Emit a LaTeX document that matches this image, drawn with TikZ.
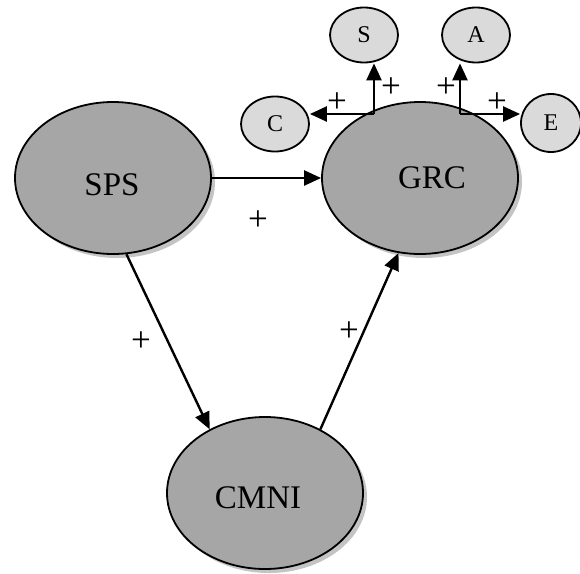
\documentclass[tikz,border=0pt]{standalone}
\usepackage{fontspec}
\setmainfont{Liberation Serif}
\usetikzlibrary{shapes.geometric,arrows.meta,shadows}
\definecolor{bigfill}{HTML}{A6A6A6}
\definecolor{smallfill}{HTML}{DADADA}
\definecolor{shadowgray}{HTML}{C4C4C4}
\begin{document}
\begin{tikzpicture}[x=1pt,y=-1pt,
  big/.style={ellipse, draw, line width=1.8pt, fill=bigfill,
    minimum width=196pt, minimum height=152pt, inner sep=0pt,
    drop shadow={shadow xshift=4pt, shadow yshift=-4pt, fill=shadowgray, opacity=1}},
  small/.style={ellipse, draw, line width=1.8pt, fill=smallfill,
    minimum width=68pt, minimum height=55pt, inner sep=0pt,
    font=\fontsize{24}{26}\selectfont},
  bigtext/.style={font=\fontsize{33}{36}\selectfont, inner sep=0pt},
  plus/.style={font=\fontsize{35}{38}\selectfont, inner sep=0pt},
  link/.style={line width=2.4pt, -{Triangle[length=17pt,width=15pt]}}]
\useasboundingbox (0,0) rectangle (580,573);

% main constructs
\node[big] (SPS)  at (113,178) {};
\node[big] (GRC)  at (420,178) {};
\node[big] (CMNI) at (265,493) {};
\node[bigtext] (tSPS)  at (112,185) {SPS};
\node[bigtext] (tGRC)  at (432,178) {GRC};
\node[bigtext] (tCMNI) at (258,498) {CMNI};

% dimensions of GRC
\node[small] (S) at (364,35) {S};
\node[small] (A) at (476,35) {A};
\node[small] (C) at (275,124) {C};
\node[small, minimum width=60pt, minimum height=58pt] (E) at (551,123) {E};

% branching points on top of GRC
\coordinate (j1) at (374,114);
\coordinate (j2) at (460,114);

% paths
\draw[link] (SPS.east) -- (GRC.west);
\draw[link] (SPS.-80) -- (CMNI.131);
\draw[link] (CMNI.49) -- (GRC.-106);
\draw[link] (j1) -- (j1 |- S.south);
\draw[link] (j1) -- (C.east |- j1);
\draw[link] (j2) -- (j2 |- A.south);
\draw[link] (j2) -- (E.west |- j2);

% signs
\node[plus] (p1) at (258,221) {+};
\node[plus] (p2) at (141,342) {+};
\node[plus] (p3) at (349,332) {+};
\node[plus] (p4) at (337,103) {+};
\node[plus] (p5) at (391,88) {+};
\node[plus] (p6) at (446,88) {+};
\node[plus] (p7) at (497,103) {+};
\end{tikzpicture}
\end{document}
